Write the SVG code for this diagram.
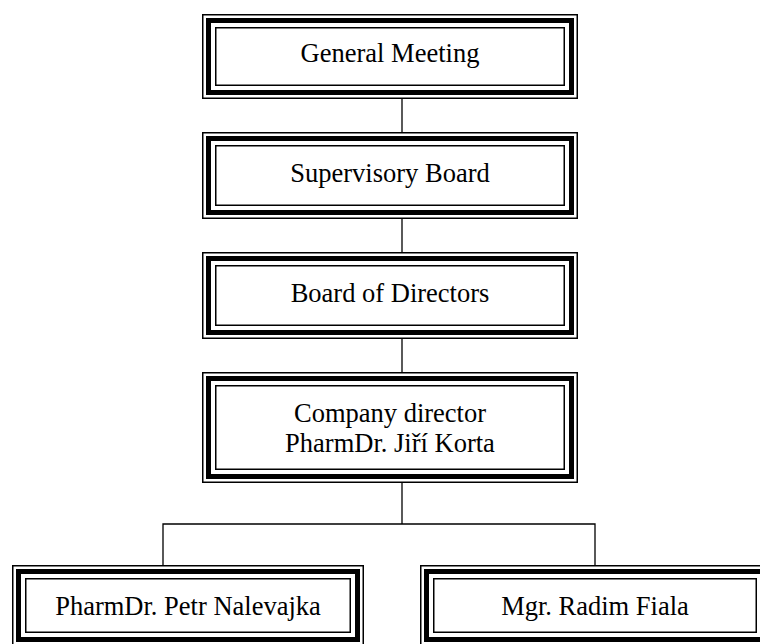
<svg xmlns="http://www.w3.org/2000/svg" width="760" height="644" viewBox="0 0 760 644">
<style>
.o{fill:none;stroke:#000;stroke-width:1.5}
.t{fill:none;stroke:#000;stroke-width:5}
.i{fill:none;stroke:#000;stroke-width:1.5}
.c{fill:none;stroke:#000;stroke-width:1.3}
text{font-family:"Liberation Serif","Times New Roman",serif;font-size:26.5px;fill:#000;text-anchor:middle}
</style>
<rect width="760" height="644" fill="#fff"/>
<g id="connectors">
<line class="c" x1="402" y1="99" x2="402" y2="132"/>
<line class="c" x1="402" y1="219" x2="402" y2="252"/>
<line class="c" x1="402" y1="339" x2="402" y2="372"/>
<line class="c" x1="402" y1="483" x2="402" y2="524"/>
<polyline class="c" points="163,565 163,524 595,524 595,565"/>
</g>
<g id="general-meeting">
<rect class="o" x="202.75" y="14.75" width="374.5" height="83.5"/>
<rect class="t" x="208.5" y="20.5" width="363" height="72"/>
<rect class="i" x="215.75" y="27.75" width="348.5" height="57.5"/>
<text x="390" y="62">General Meeting</text>
</g>
<g id="supervisory-board">
<rect class="o" x="202.75" y="132.75" width="374.5" height="85.5"/>
<rect class="t" x="208.5" y="138.5" width="363" height="74"/>
<rect class="i" x="215.75" y="145.75" width="348.5" height="59.5"/>
<text x="390" y="182">Supervisory Board</text>
</g>
<g id="board-of-directors">
<rect class="o" x="202.75" y="252.75" width="374.5" height="85.5"/>
<rect class="t" x="208.5" y="258.5" width="363" height="74"/>
<rect class="i" x="215.75" y="265.75" width="348.5" height="59.5"/>
<text x="390" y="302">Board of Directors</text>
</g>
<g id="company-director">
<rect class="o" x="202.75" y="372.75" width="374.5" height="109.5"/>
<rect class="t" x="208.5" y="378.5" width="363" height="98"/>
<rect class="i" x="215.75" y="385.75" width="348.5" height="83.5"/>
<text x="390" y="422">Company director</text>
<text x="390" y="452">PharmDr. Jiří Korta</text>
</g>
<g id="petr-nalevajka">
<rect class="o" x="12.75" y="565.75" width="350.5" height="79.5"/>
<rect class="t" x="18.5" y="571.5" width="339" height="68"/>
<rect class="i" x="25.75" y="578.75" width="324.5" height="53.5"/>
<text x="188" y="615">PharmDr. Petr Nalevajka</text>
</g>
<g id="radim-fiala">
<rect class="o" x="420.75" y="565.75" width="348.5" height="79.5"/>
<rect class="t" x="426.5" y="571.5" width="337" height="68"/>
<rect class="i" x="433.75" y="578.75" width="322.5" height="53.5"/>
<text x="595" y="615">Mgr. Radim Fiala</text>
</g>
</svg>
